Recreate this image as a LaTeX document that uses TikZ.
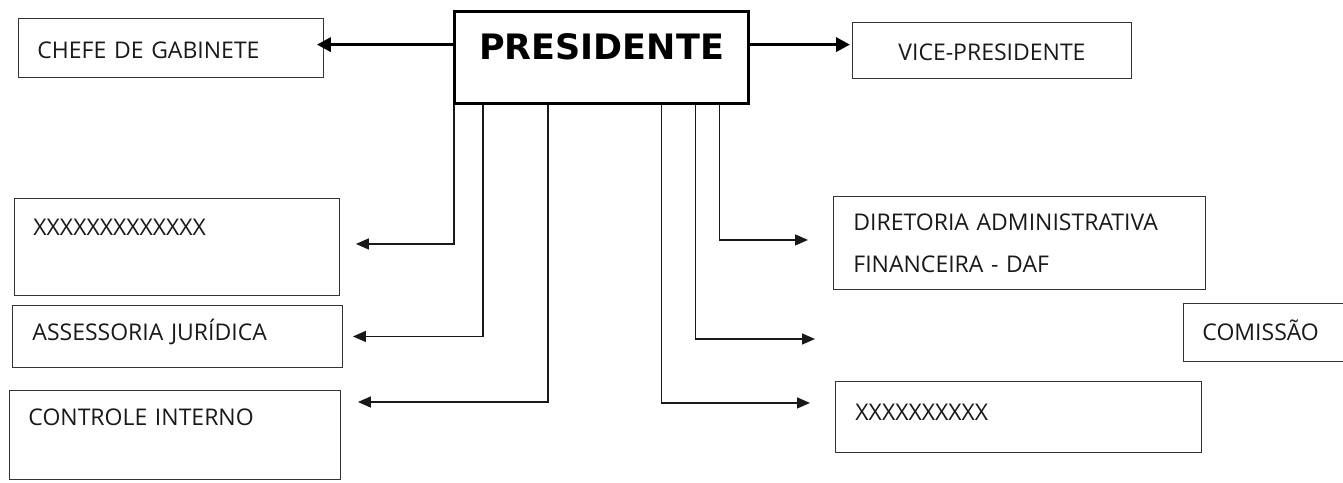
\documentclass[tikz,border=0pt]{standalone}
\usepackage{fontspec}
\setmainfont{Open Sans}
\newfontfamily\presfont{DejaVu Sans}
\usetikzlibrary{arrows.meta, positioning}

\tikzset{
	unit/.style = {draw=black!80, line width=0.9pt, anchor=north west, inner ysep=0pt, align=left, text=black!90, font=\fontsize{23}{42}\selectfont},
	link/.style = {line width=1.4pt, black!90, -{Triangle[length=13pt,width=11pt]}},
	bigarrow/.style = {line width=3.5pt, -{Triangle[length=14pt,width=14pt]}},
}

\begin{document}
\begin{tikzpicture}[x=1pt, y=-1pt]
			\useasboundingbox (0,0) rectangle (1343,482);
			\clip (0,0) rectangle (1343,482);
			\node [draw, line width=3.2pt, anchor=north west, inner xsep=0pt, inner ysep=0pt, minimum width=294pt, text height=48pt, text depth=44pt, font=\presfont\bfseries\fontsize{35}{40}\selectfont] (pres) at (453,10) {PRESIDENTE};
			\node [unit, inner xsep=19pt, text width=267pt, text height=40pt, text depth=19pt] (chefe) at (18,18) {CHEFE DE GABINETE};
			\node [unit, align=center, inner xsep=0pt, text width=279pt, text height=38pt, text depth=18pt] (vice) at (852,22) {VICE-PRESIDENTE};
			\node [unit, inner xsep=19pt, text width=287pt, text height=37pt, text depth=60pt] (xxl) at (14,198) {XXXXXXXXXXXXX};
			\node [unit, inner xsep=20pt, text width=290pt, text height=35pt, text depth=27pt] (jur) at (12,305) {ASSESSORIA JURÍDICA};
			\node [unit, inner xsep=19pt, text width=293pt, text height=35pt, text depth=54pt] (ctrl) at (9,390) {CONTROLE INTERNO};
			\node [unit, inner xsep=20pt, text width=332pt, minimum height=93pt] (daf) at (833,196) {DIRETORIA ADMINISTRATIVA\\FINANCEIRA - DAF};
			\node [unit, inner xsep=19pt, text width=320pt, text height=37pt, text depth=21pt] (com) at (1183,303) {COMISSÃO};
			\node [unit, inner xsep=20pt, text width=326pt, text height=39pt, text depth=32pt] (xxr) at (835,381) {XXXXXXXXXX};
			\coordinate (comtip) at (815,339);

			\draw [bigarrow, shorten >=-7pt] ([yshift=13pt]pres.west) -- ([yshift=13pt]pres.west -| chefe.east);
			\draw [bigarrow, shorten >=2pt] ([yshift=13pt]pres.east) -- ([yshift=13pt]pres.east -| vice.west);

			\draw [link] ([xshift=1pt]pres.south west) |- ([xshift=16pt,yshift=3pt]xxl.east);
			\draw [link] ([xshift=30pt]pres.south west) |- ([xshift=10pt]jur.east);
			\draw [link] ([xshift=95pt]pres.south west) |- ([xshift=17pt,yshift=-12pt]ctrl.north east);
			\draw [link] ([xshift=-31pt]pres.south east) |- ([xshift=-25pt,yshift=3pt]daf.west);
			\draw [link] ([xshift=-55pt]pres.south east) |- (comtip);
			\draw [link] ([xshift=-89pt]pres.south east) |- ([xshift=-25pt,yshift=14pt]xxr.west);
		\end{tikzpicture}
\end{document}
